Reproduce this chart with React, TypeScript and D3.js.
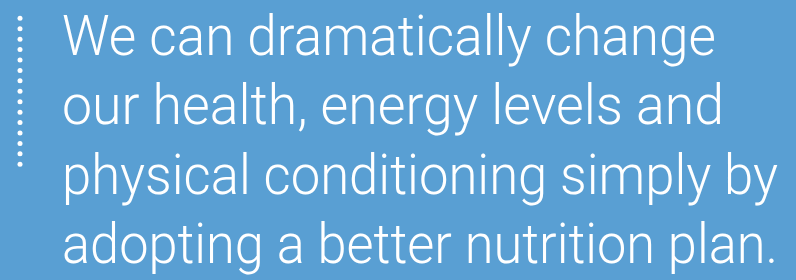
import React, { useRef, useEffect } from "react";
import * as d3 from "d3";

// quote text, one entry per line
const lines = [
  "We can dramatically change",
  "our health, energy levels and",
  "physical conditioning simply by",
  "adopting a better nutrition plan.",
];
// measured right edge of each line in the picture
const lineEnds = [716, 724, 778, 778];
const dotCount = 15;

const QuoteBlock = () => {
  const ref = useRef<HTMLDivElement>(null);

  useEffect(() => {
    const width = 796;
    const height = 280;
    const textLeft = 62;

    d3.select(ref.current).selectAll("*").remove();

    const svg = d3
      .select(ref.current)
      .append("svg")
      .attr("width", width)
      .attr("height", height)
      .style("display", "block");

    svg.append("rect").attr("width", width).attr("height", height).attr("fill", "#599fd3");

    // baselines for each line
    const y = d3
      .scalePoint<number>()
      .domain(d3.range(lines.length))
      .range([55, 263]);

    svg
      .append("g")
      .selectAll("text")
      .data(lines)
      .join("text")
      .attr("x", textLeft)
      .attr("y", (_, i) => y(i)!)
      .attr("fill", "white")
      .attr("font-family", "Roboto, 'Open Sans', sans-serif")
      .attr("font-weight", 300)
      .attr("font-size", 55)
      .attr("textLength", (_, i) => lineEnds[i] - textLeft)
      .attr("lengthAdjust", "spacingAndGlyphs")
      .text((d) => d);

    // dotted rule on the left
    const dy = d3
      .scaleLinear()
      .domain([0, dotCount - 1])
      .range([18.3, 164.3]);

    svg
      .append("g")
      .selectAll("circle")
      .data(d3.range(dotCount))
      .join("circle")
      .attr("cx", 20)
      .attr("cy", (d) => dy(d))
      .attr("r", 2.5)
      .attr("fill", "white");
  }, []);

  return <div ref={ref}></div>;
};

export default function App() {
  useEffect(() => {
    document.body.style.margin = "0";
  }, []);
  return <QuoteBlock />;
}
